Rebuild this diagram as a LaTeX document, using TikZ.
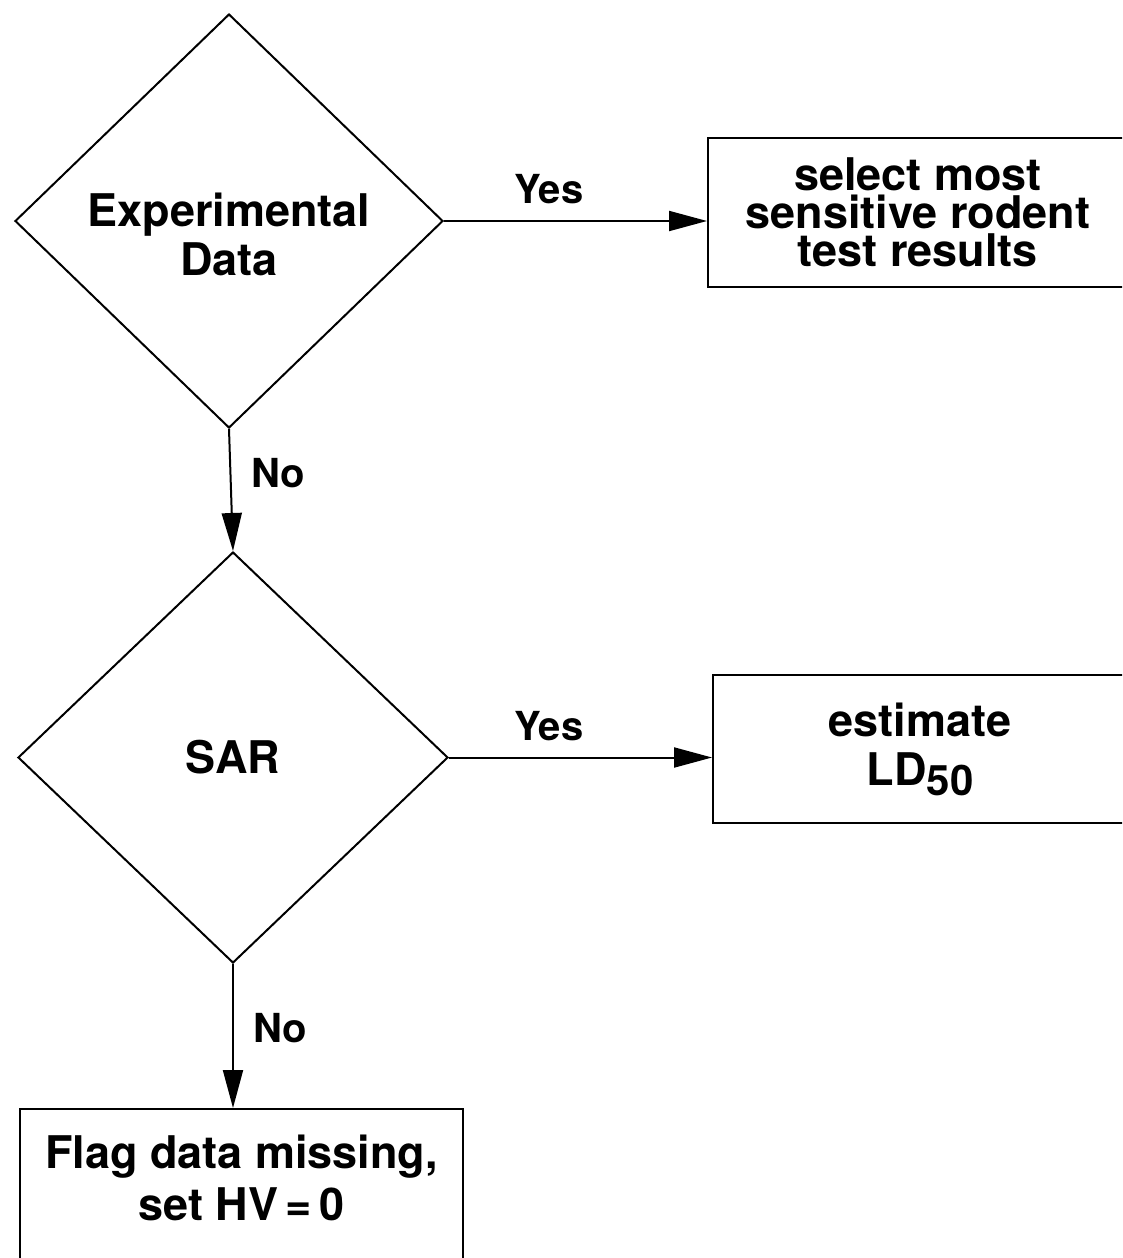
\documentclass[tikz,border=0pt]{standalone}
\usepackage{fontspec}
\setmainfont{TeX Gyre Heros}
\usetikzlibrary{shapes.geometric,arrows.meta}

% text sizes used in the chart
\newcommand\chartbig{\fontsize{45}{49}\selectfont\bfseries}
\newcommand\chartlabel{\fontsize{40}{44}\selectfont\bfseries}

\begin{document}
\begin{tikzpicture}[x=1pt,y=-1pt,
  line width=2pt,
  decision/.style={draw,shape=diamond,inner sep=0pt},
  process/.style={draw,rectangle,inner sep=0pt,align=center,font=\chartbig},
  caption/.style={font=\chartbig,align=center,inner sep=0pt},
  answer/.style={font=\chartlabel,inner sep=0pt,anchor=base},
  flow/.style={-{Triangle[length=38pt,width=20pt]}},
]
\useasboundingbox (0,0) rectangle (1122,1258);
\clip (0,0) rectangle (1122,1258);

% decisions
\node[decision,minimum width=428pt,minimum height=414pt] (d1) at (229,221) {};
\node[caption] (d1text) at (229,234) {Experimental\\Data};
\node[decision,minimum width=430pt,minimum height=411pt,font=\chartbig] (d2) at (233,757.5) {SAR};

% actions
\node[process,minimum width=420pt,minimum height=149.5pt,
      font=\fontsize{45}{38}\selectfont\bfseries] (b1) at (918,212.5)
  {select most\\sensitive rodent\\test results};
\node[process,minimum width=414pt,minimum height=148pt] (b2) at (920,749)
  {estimate\\LD\raisebox{-10pt}{\fontsize{42}{42}\selectfont 50}};
\node[draw,rectangle,minimum width=443pt,minimum height=172pt] (b3) at (241.5,1195) {};
\node[caption,font=\fontsize{45}{52}\selectfont\bfseries] (b3text) at (241.5,1177.5)
  {Flag data missing,\\set HV\,=\,0};

% connectors
\draw[flow] (d1.east) -- (d1.east -| b1.west);
\draw[flow] (d2.east) -- (d2.east -| b2.west);
\draw[flow] (d1.south) -- (d2.north);
\draw[flow] (d2.south) -- (d2.south |- b3.north);

% branch labels
\node[answer] (yes1) at (549,203) {Yes};
\node[answer] (yes2) at (549,740) {Yes};
\node[answer] (no1) at (278,487) {No};
\node[answer] (no2) at (280,1042) {No};
\end{tikzpicture}
\end{document}
